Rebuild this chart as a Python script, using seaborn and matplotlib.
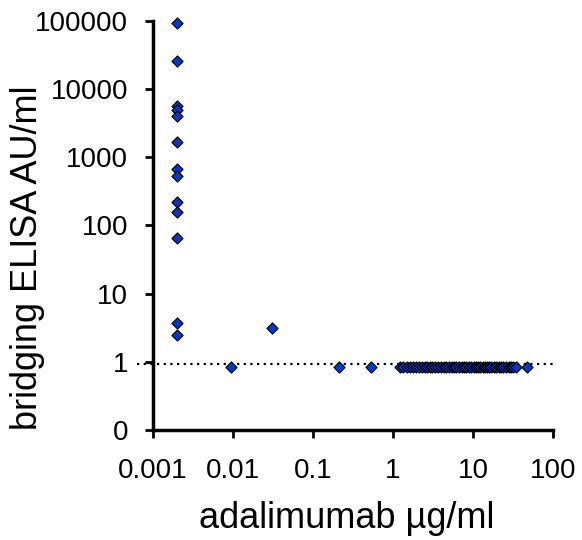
import numpy as np
import pandas as pd
import seaborn as sns
import matplotlib.pyplot as plt
from matplotlib.ticker import FixedLocator, FixedFormatter, NullLocator

# drug level (ug/ml) vs bridging ELISA (AU/ml)
low_drug_x = [0.002] * 13 + [0.0094, 0.031, 0.21, 0.53]
low_drug_y = [95000, 26000, 5600, 4900, 4000, 1660, 680, 540, 222, 157, 65, 3.67, 2.5,
              0.85, 3.1, 0.85, 0.85]
cluster_x = [1.23, 1.35, 1.5, 1.65, 1.8, 1.95, 2.1, 2.3, 2.5, 2.7, 2.9, 3.1, 3.4, 3.7,
             4.0, 4.3, 4.6, 5.0, 5.4, 5.8, 6.2, 6.7, 7.2, 7.8, 8.3, 8.9, 9.5, 10.2,
             10.9, 11.6, 12.4, 13.2, 14.0, 15.0, 16.0, 17.0, 18.2, 19.5, 21.0, 22.5,
             24.0, 26.0, 28.0, 30.0, 32.0, 35.0, 47.0]
cluster_y = [0.85] * len(cluster_x)
cutoff = 0.93

y_ticks = [0.1, 1, 10, 100, 1000, 10000, 100000]
y_tick_labels = ["0", "1", "10", "100", "1000", "10000", "100000"]
x_ticks = [0.001, 0.01, 0.1, 1, 10, 100]
x_tick_labels = ["0.001", "0.01", "0.1", "1", "10", "100"]

df = pd.DataFrame({"drug": low_drug_x + cluster_x, "ada": low_drug_y + cluster_y})

sns.set_style("ticks")
plt.rcParams["font.family"] = ["Liberation Sans", "DejaVu Sans"]

fig = plt.figure(figsize=(5.82, 5.40), dpi=100)
ax = fig.add_axes([0.263, 0.204, 0.687, 0.757])

ax.set_xscale("log")
ax.set_yscale("log")
ax.set_xlim(0.001, 100)
ax.set_ylim(0.1, 100000)

# cutoff line starts a little left of the y axis
ax.plot([-0.04, 1.0], [cutoff, cutoff], transform=ax.get_yaxis_transform(),
        color="black", linestyle=(0, (1, 2)), linewidth=1.6, zorder=1, clip_on=False)
sns.scatterplot(data=df, x="drug", y="ada", marker="D", s=32, color="#0736C8",
                edgecolor="black", linewidth=0.8, ax=ax, zorder=3, clip_on=False)

ax.xaxis.set_major_locator(FixedLocator(x_ticks))
ax.xaxis.set_major_formatter(FixedFormatter(x_tick_labels))
ax.yaxis.set_major_locator(FixedLocator(y_ticks))
ax.yaxis.set_major_formatter(FixedFormatter(y_tick_labels))
ax.xaxis.set_minor_locator(NullLocator())
ax.yaxis.set_minor_locator(NullLocator())

for side in ["top", "right"]:
    ax.spines[side].set_visible(False)
for side in ["left", "bottom"]:
    ax.spines[side].set_linewidth(2.5)
    ax.spines[side].set_color("black")
ax.tick_params(axis="both", which="major", direction="out", length=6, width=2,
               color="black", labelsize=20, labelcolor="black")
ax.tick_params(axis="x", pad=14)
ax.tick_params(axis="y", pad=12)

ax.set_xlabel("adalimumab µg/ml", fontsize=26, color="black")
ax.set_ylabel("bridging ELISA AU/ml", fontsize=26, color="black")
ax.xaxis.set_label_coords(0.485, -0.175)
ax.yaxis.set_label_coords(-0.27, 0.42)

fig.savefig("out.png", dpi=100)
